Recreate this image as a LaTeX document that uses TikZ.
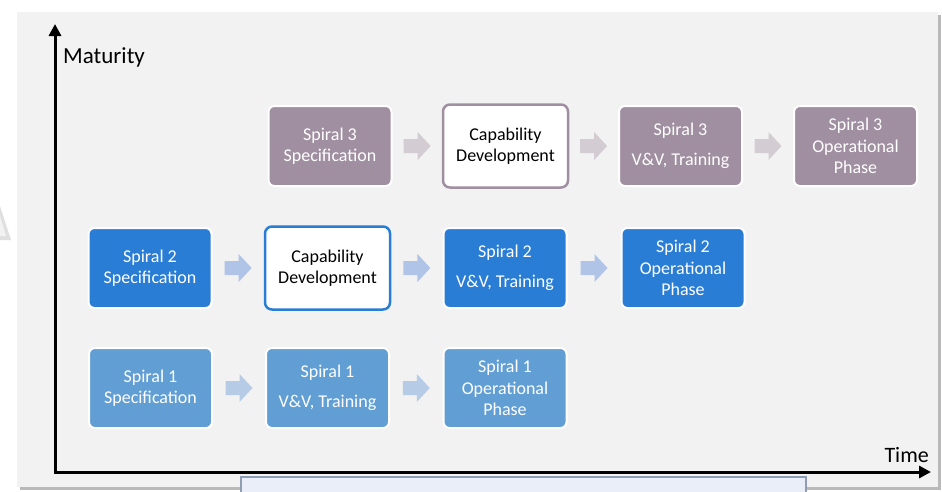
\documentclass[tikz,border=0pt]{standalone}
\usepackage{fontspec}
\setmainfont{Carlito}
\usetikzlibrary{arrows.meta,calc}
\definecolor{panel}{HTML}{F2F2F2}
\definecolor{purp}{HTML}{A08FA0}
\definecolor{blueB}{HTML}{2A7DD5}
\definecolor{blueA}{HTML}{619ED4}
\definecolor{arrP}{HTML}{D3CCD2}
\definecolor{arrB}{HTML}{AFC4E7}
\definecolor{arrA}{HTML}{B5CBE6}
\definecolor{botfill}{HTML}{E9EEF8}
\definecolor{botline}{HTML}{8E9DB5}
\newcommand{\blkarrow}[3]{%
  \path ($(#1.east)!0.5!(#2.west)$) coordinate (m);
  \fill[#3] ($(m)+(-13.5,-7)$) -- ($(m)+(0.5,-7)$) -- ($(m)+(0.5,-14)$) -- ($(m)+(13.5,0)$)
    -- ($(m)+(0.5,14)$) -- ($(m)+(0.5,7)$) -- ($(m)+(-13.5,7)$) -- cycle;}
\begin{document}
\begin{tikzpicture}[x=1pt,y=-1pt,
  box/.style={rounded corners=6pt, draw=white, line width=2pt, minimum width=123pt,
    minimum height=80pt, text=white, font=\fontsize{18}{21.5}\selectfont, align=center, inner sep=0pt},
  capbox/.style={rounded corners=7pt, fill=white, line width=2.5pt, minimum width=125pt,
    minimum height=83pt, text=black, font=\fontsize{18}{21.5}\selectfont, align=center, inner sep=0pt},
  axis/.style={line width=3pt, line join=miter, {Triangle[length=12pt,width=12pt]}-{Triangle[length=12pt,width=12pt]}}
]
\useasboundingbox (0,0) rectangle (942,491);
\fill[white] (0,0) rectangle (942,491);
% left triangle fragment
\fill[gray!25] (0,206) -- (11,240) -- (0,240) -- cycle;
\fill[gray!10] (0,216) -- (6,236) -- (0,236) -- cycle;
% panel with shadow
\fill[gray!55] (20,15) rectangle (941,490);
\fill[panel] (17,12) rectangle (938,487);
% bottom box
\draw[draw=botline, fill=botfill, line width=1.2pt] (241,477) rectangle (806,494);
% axes
\coordinate (ytop) at (55,24);
\coordinate (org) at (55,472);
\coordinate (xend) at (931,472);
\draw[axis] (ytop) -- (org) -- (xend);
\node[anchor=west, inner sep=0pt, font=\fontsize{23}{26}\selectfont] (mat) at (63,57) {Maturity};
\node[anchor=east, inner sep=0pt, font=\fontsize{22}{25}\selectfont] (time) at (929,455) {Time};
% row 3
\node[box, fill=purp] (s3) at (330,146) {Spiral 3\\Specification};
\node[capbox, draw=purp] (c3) at (505.5,146) {Capability\\Development};
\node[box, fill=purp] (v3) at (680.5,146) {Spiral 3\\[8pt]V\&V, Training};
\node[box, fill=purp] (o3) at (855.5,146) {Spiral 3\\Operational\\Phase};
% row 2
\node[box, fill=blueB] (s2) at (150,268) {Spiral 2\\Specification};
\node[capbox, draw=blueB] (c2) at (327.5,268) {Capability\\Development};
\node[box, fill=blueB] (v2) at (505,268) {Spiral 2\\[8pt]V\&V, Training};
\node[box, fill=blueB] (o2) at (683,268) {Spiral 2\\Operational\\Phase};
% row 1
\node[box, fill=blueA] (s1) at (150.5,388) {Spiral 1\\Specification};
\node[box, fill=blueA] (v1) at (327.5,388) {Spiral 1\\[8pt]V\&V, Training};
\node[box, fill=blueA] (o1) at (505,388) {Spiral 1\\Operational\\Phase};
% block arrows
\blkarrow{s3}{c3}{arrP}
\blkarrow{c3}{v3}{arrP}
\blkarrow{v3}{o3}{arrP}
\blkarrow{s2}{c2}{arrB}
\blkarrow{c2}{v2}{arrB}
\blkarrow{v2}{o2}{arrB}
\blkarrow{s1}{v1}{arrA}
\blkarrow{v1}{o1}{arrA}
\end{tikzpicture}
\end{document}
